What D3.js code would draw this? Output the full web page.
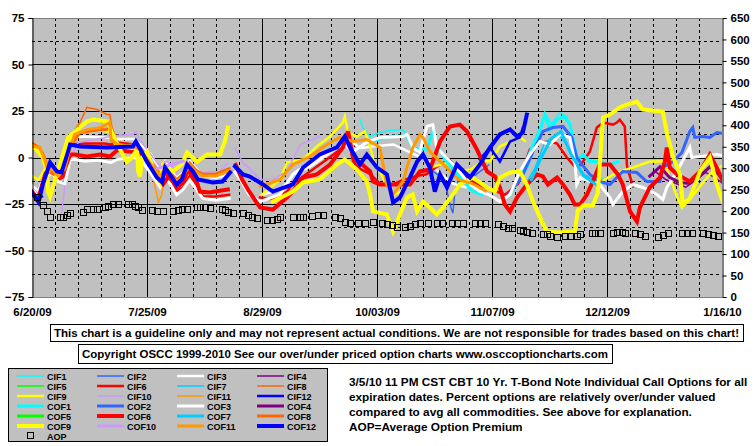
<!DOCTYPE html>
<html><head><meta charset="utf-8">
<script src="https://cdn.jsdelivr.net/npm/d3@7"></script>
<style>
body{margin:0;background:#fff;}
svg{display:block;font-family:"Liberation Sans",Arial,sans-serif;font-weight:bold;}
</style></head><body>
<svg id="c" width="755" height="446"></svg>
<script>
// ---------- DATA (day offset from 6/20/09, percent over/under) ----------
const xTickLabels = ["6/20/09","7/25/09","8/29/09","10/03/09","11/07/09","12/12/09","1/16/10"];
const leftTicks = [75,50,25,0,-25,-50,-75];
const rightTicks = [650,600,550,500,450,400,350,300,250,200,150,100,50,0];

const cif1 = [[99.8,20.4],[100.7,16],[102.9,11.3],[105.9,13.4],[108.9,14.5],[112.9,15.1],[114.1,12.4],[null,null],
  [148,-14],[151,-5],[153.7,10],[155.5,18],[156.1,24],[158,18],[160.7,24],[162.8,22],[164.3,12],[166,0]];
const cif2 = [[121,-6],[124,-10],[126,-16],[127.5,-27],[128.1,-30],[128.6,-20],[130,-10],[133,-12],[136,-8],[139,-4]];
const cif3 = [[0,-15],[2,-18],[4,-8],[6,-4],[8,-9],[10,-8],[11.6,10.8],[16,11.3],[22,10.8],[24,10.5],[26,10],[31,10],[33,7],[36,2],[39,-6],[40.5,-2],[42,-6],[44,-11],[46,-8],[48,-2],[50,-6],[52,-10],[56,-11],[60,-9],[null,null],
  [70,-20],[76,-17],[80,-8],[86,-1],[92,4],[96,10],[100,5],[104,6],[110,7],[116,2],[120,-1],[124,-8],[128,-14],[132,-16],[136,-14]];
const cif4 = [[190,-8],[193,-12],[196,-14],[199,-16],[202,-12],[205,-8],[208,-11],[210.3,-14]];
const cif5 = [];
const cif6 = [[0,-20],[2,-21],[4,-12],[6,-6],[8,-12],[10,-10],[11.6,7],[16,7.5],[22,7.5],[24,7],[26,8],[31,7],[33,3],[36,-5],[39,-14],[40.5,-8],[42,-12],[44,-18],[46,-16],[48,-10],[50,-15],[52,-21],[56,-21],[60,-20],[null,null],
  [69.4,-21.5],[73.3,-22.6],[77.6,-18.3],[79.4,-14],[84.6,-7.5],[89.8,-1],[94.6,5.4],[96.2,13.4],[97.7,-2],[99.8,-6],[103,-9],[105.9,-14],[109,-15],[113,-12],[117,-10],[120,-9],[124,-4],[127,-1],[131,-9],[134,-13],[138,-16],[141,-18],[144,-20],[148,-14],[151.5,4.3],[154.6,8.1],[157.6,8.6],[159.8,7.5],[162.8,0],[165.2,-5],[167,-4],[169.8,3.2],[171.9,16.1],[173.8,18.8],[176.8,17.7],[178,18.8],[178.9,20.4],[180.4,16.7],[181.1,-4.8],[182.9,-15.6]];
const cif7 = [[150,-15],[153,-6],[156,8],[160,13],[164,4],[167,-8],[172,-13],[176,-10]];
const cif8 = [[0,8],[2,6],[4,-4],[6,-8],[8,-10],[10,-5],[11,5],[12,12],[14.6,18.8],[16.7,26.9],[19.8,25.8],[22.8,23.1],[23.7,23.1],[24.3,16.7],[26,8]];
const cif9 = [[0,-10],[2,-12],[4,-6],[6,-9],[9,-4],[11,8],[13,13.4],[16,14],[20,14.5],[23.7,14],[24.3,10],[26,5],[30,4],[33,2],[null,null],
  [70,-20],[75.5,-11.8],[77.6,-2.7],[82.5,-1.1],[86.7,5.9],[90.7,11.3],[94.6,18.8],[95.2,22],[96.2,13.4],[98.9,11.3],[101.3,14],[102.9,5.9],[104,-2],[106,-8],[108,-15],[110,-20],[113,-18],[116,-12],[118,-8],[122,-5],[126,-3],[130,-8],[134,-6],[137,-2],[139.4,-2],[142.4,5.9],[145.5,8.6],[148.5,10.8],[150,9],[null,null],
  [165.8,-29],[170,-15],[172.8,-13.4],[178,-8.1],[182.9,-5.4],[188,-2.2],[192,-2.2],[193.2,-6.5],[196.3,-21],[197.8,-26.9],[200.2,-22.6],[203.3,-15.6],[206.3,-9],[210.3,-4]];
const cif10 = [[9.1,-29],[10,-15],[11.6,-1],[14,8],[20,10],[26,12],[30.7,12.4],[31.6,14],[33,9],[36,2],[39,-5],[40.5,-2],[42,-3],[44,-8],[47.2,-2.7],[51.1,-8.1],[57.2,-7.5],[59.6,-2.7],[null,null],
  [61.8,5],[64.2,-3],[66.3,-6],[69.4,-11.8],[73.3,-11.8],[77.6,-7.5],[81.6,7],[86.7,10.8],[87.6,11.3]];
const cif11 = [[36,-4],[37.5,-16],[38.5,-24],[39.5,-20],[40.5,-8]];
const cif12 = [[0,-20],[1.5,-22],[3,-21],[null,null],[136.3,-1],[139.4,5.4],[142.4,-2.2],[145.5,8.6],[148.5,10.8],[149.4,16.1]];

const cof1 = [[103,8],[106,10],[110,11.5],[114.1,11.3],[116,5],[120.2,4.3],[122,14],[123.5,6],[126,-2],[130,-10],[134,-18],[137,-20],[null,null],
  [145.5,-20],[148.5,-10.8],[151.5,2.7],[154.6,15.1],[156.1,23.1],[157.6,15.1],[159.8,20.4],[161.6,22.1],[163.7,18.3],[165.2,5.4],[166.1,-1],[167.7,1.6],[169.8,-2.2],[172.8,-2.2],[175.9,-3.8],[178.3,-2.2]];
const cof2 = [[145.5,-18.8],[149.4,-9.1],[152.5,3.2],[155.5,14],[158.5,16.1],[161.6,16.7],[164.3,10.8],[165.8,0],[167.4,-3.8],[169.8,-9.1],[172.8,-12.9],[175.9,-14.5],[179.8,-7.5],[184.1,-8.1],[187.1,-12.9],[191.1,-12.9],[192,-5.4],[195.1,-2.2],[197.8,2.7],[200.2,14],[201.1,16.1],[201.7,10.8],[204.2,11.3],[206.3,10.8],[208.4,13.4],[210.3,13]];
const cof3 = [[0,-17],[2,-22],[4,-12],[6,-8],[8,-13],[10,-14],[11.6,-1.1],[13,-1],[16,-2],[20,-1.5],[24,-2.7],[26,-1],[31,0],[33,-1],[36,-8],[39,-16],[40.5,-11],[42,-14],[44,-20],[46,-17],[48,-12],[50,-17],[52,-22],[56,-23],[60,-22],[null,null],
  [61.8,-8],[64.2,-14],[66,-20],[69.4,-23.7],[75.5,-19.9],[79.4,-9.1],[84.6,-4.8],[89.8,1.6],[94.6,8.1],[97.7,3.2],[101.9,8.1],[105.9,10.8],[112.9,11.3],[114.1,12.4],[116,5],[118,3],[120.2,16.7],[122,17.7],[123.2,5.4],[126,0],[129,-5],[132,-12],[136,-18],[139,-20],[141,-22],[142.4,-23.7],[145.5,-19.9],[148.5,-7.5],[151.5,1.6],[154.6,8.6],[157.6,7],[160.7,12.4],[163.7,10.8],[165.2,-2.2],[165.8,-14.5],[166.8,-10.8],[169.8,-12.9],[172.8,-14.5],[175.9,-21.5],[176.8,-25.3],[179.8,-18.3],[182.9,-14.5],[185.9,-16.1],[190.2,-19.9],[192,-22.6],[193.2,-16.1],[196.3,-7.5],[200.2,5.4],[200.8,0],[203.3,0.5],[208.4,1.6],[210.3,1]];
const cof4 = [[188,-10],[191.1,-5],[194.1,-10.8],[197.2,-13.4],[200.2,-14],[203.3,-10],[206.3,-5],[208.4,-8],[210.3,-12]];
const cof5 = [];
const cof6 = [[0,-18.3],[1.8,-22.6],[4,-9.1],[5.5,-4.8],[7.6,-10.2],[9.4,-9.1],[11.6,1.6],[13,1.6],[16.7,0.5],[20.7,1.6],[23.7,0.5],[26,4],[30.7,3],[33,2.7],[36,-3.8],[39,-12.9],[39.9,-14.5],[42,-9.1],[44.1,-16.1],[46,-13.4],[47.5,-6.5],[50.2,-13.4],[51.1,-18.3],[54,-18.8],[59.6,-17.2],[null,null],
  [62,-4],[64,-12],[66,-18],[69.4,-26.9],[73.3,-28],[77.6,-21.5],[79.4,-18.3],[82.5,-10.8],[86.7,-9.1],[90.7,-3.8],[94.6,5.4],[96.2,14],[97.7,0],[99.8,-2.7],[102.9,-7.5],[103.8,-12.9],[105.9,-14.5],[112,-14.5],[115,-14.5],[118.1,-7.5],[121.1,-6.5],[124.2,8.6],[127.2,16.7],[130.2,17.7],[132.4,14],[135.4,4.3],[138.5,-7.5],[140.9,-10.2],[142.4,-16.1],[143.9,-25.3],[145.5,-29],[147.6,-21.5],[150.6,-14.5],[153.7,-9.1],[155.5,-10.2],[157,-14.5],[159.8,-10.8],[161.6,-14.5],[163.7,-19.9],[165.2,-25.3],[166.8,-25.3],[168.9,-19.9],[170.7,-12.9],[172.8,-3.8],[175.9,-3.8],[178.3,-9.1],[179.8,-14.5],[182,-29],[184.1,-34.4],[185,-26.9],[188,-16.1],[191.1,-10.8],[192.6,-2.2],[193.2,5.4],[194.1,-5.4],[196.3,-9.1],[200.2,-12.9],[203.3,-7.5],[206.3,1.6],[208.4,-5.4],[210.3,-12.9]];
const cof7 = [[152,-12],[155,0],[158,10],[161,14],[164,2],[168,-10],[172,-15]];
const cof8 = [[0,7.5],[1.5,6],[3.3,2],[4.6,-4],[5.5,-8],[7.6,-10],[9.4,-6],[11.6,6],[14.6,13.4],[18.6,14.5],[22.8,15.1],[23.7,17],[24.3,9],[28,6],[31,7],[33,5],[36,-2],[39,-9],[40.5,-4],[42,-8],[44,-12],[46,-9],[48,-3],[50,-7],[52,-9],[56,-9],[60,-6]];
const cof9 = [[0,6],[1,5],[3.3,0],[4.6,-7.5],[4.9,-18.3],[5.5,-21],[9.4,1.6],[11,10.8],[14.6,16.1],[16.7,19.4],[18.6,20.4],[22.8,19.4],[23.7,16.1],[24.3,13.4],[26.8,4.3],[28.9,-2.2],[29.8,-1.1],[32,4.3],[32.3,-7.5],[32.9,-10.2],[33.5,0],[35,3.2],[36.8,-5.4],[39,-12.9],[39.9,-3.8],[42.9,-7.5],[45.6,-3.8],[47.2,2.7],[50.2,-2.2],[53.3,1.6],[57.2,1.6],[58.7,8.6],[59.6,16.1],[null,null],
  [73.3,-23.7],[79.4,-18.3],[82.5,-13.4],[87.6,-11.8],[92.8,-3.8],[95.2,-1.1],[98.9,-6.5],[101.9,-12.9],[102.9,-19.9],[103.8,-29],[108,-30.6],[109.9,-39.8],[112,-30.6],[114.1,-21.5],[115.9,-19.9],[117.2,-29],[119,-23.7],[121.1,-26.9],[123.2,-30.6],[125.1,-26.9],[128.1,-19.9],[130.2,-14.5],[134.2,-10.8],[138.5,-16.1],[140.9,-18.3],[142.4,-10.8],[145.5,-8.1],[148.5,-7.5],[150.6,-14.5],[152.5,-23.7],[154.6,-32.3],[156.7,-39.8],[159.8,-40.3],[165.2,-39.8],[166.1,-29],[167.7,-25.8],[170.7,-25.8],[172.2,-19],[172.8,-4],[173.8,21.5],[175.9,23.1],[178.9,26.9],[180.4,28],[184.1,30.1],[185.9,25.8],[192,24.7],[193.2,13.4],[195.1,0.5],[197.2,-9.1],[198.1,-25.3],[200.2,-22],[203.3,-7.5],[206.3,0],[208.4,-14.5],[210.3,-24.2]];
const cof10 = [[38,-6],[42,-4],[46,-2]];
const cof11 = [[0,6],[2.4,5.4],[4,-2.2],[5,-8],[6,-6],[8,-10],[10,-6],[11.6,5],[13,12.4],[16.7,15],[20.7,16],[23.7,18.8],[24,10],[26,7],[31,6],[33,4],[36,-3],[39,-10],[40.5,-6],[42,-9],[44,-13],[46,-10],[48,-4],[50,-8],[52,-10],[56,-10],[60.3,-7],[null,null],
  [69.4,-15.6],[75.5,-11.8],[79.4,-3.8],[84.6,0.5],[89.8,7],[93.7,10.8],[97.7,8.6],[101.9,9.7],[105.9,5.4],[108,-15],[109.9,-19.9],[112.9,-12.9],[115.9,5.4],[118.1,12.4],[119,10.8],[121.1,3.2],[123.2,-0.5],[126,-5],[130,-12],[134,-14],[138,-18]];
const cof12 = [[0,-19],[2,-24],[3.3,-14.5],[5.5,-2.7],[7.6,-7.5],[9,-8],[10.7,1.6],[11.6,7],[14.6,5.9],[22.8,5.4],[30.7,5.9],[31.6,8.6],[33,4.3],[35,-2.2],[38,-10.8],[39.6,-13.4],[40.5,-5.4],[42,-9.1],[44,-14.5],[45.6,-11.8],[47.2,-3.8],[49,-7.5],[50.5,-11.8],[55,-13.4],[58,-12.9],[60.3,-8.1],[null,null],
  [61.8,-4.8],[64.2,-9.1],[66.3,-10.2],[70.3,-14.5],[73.3,-18.3],[79.4,-14.5],[82.5,-5.4],[87.6,1.6],[92.8,5.4],[95.2,11.3],[96.8,5.4],[99.8,-3.8],[101.9,1.6],[105,-5.4],[108,-9.1],[109.9,-24.2],[112,-21.5],[115,-10.8],[117.2,-2.2],[119,1.6],[121.1,-5.4],[122.6,-18.3],[124.2,-9.1],[126.3,-16.1],[129.3,-3.8],[133.3,-10.8],[136.3,-3.8],[139.4,5.4],[142.4,12.4],[145.5,15.1],[147.6,11.3],[149.4,13.4],[150.6,23.1]];

// AOP (right axis, average option premium)
const aopDays = [1.5,3.3,4.6,5.5,8.5,9.4,10.7,11.6,15.5,16.7,18.6,19.8,22.2,23.1,24.7,26.2,29.2,30.4,31.3,32.3,33.5,36.5,38,39.9,42.9,44.4,45.6,47.2,50.2,51.1,52.6,54.2,57.8,58.7,59.6,61.2,64.2,65.7,67,68.5,71.5,73,74.6,75.5,79.4,81.6,82.5,85.2,87,88.6,92.2,93.7,95.3,96.8,99.2,101.3,103.8,106.5,108,109.6,111,113.5,115,116.6,118,120.5,123.2,124.8,127.8,129.3,131.2,134.8,136.3,137.9,141.8,143.3,144.9,146,148.5,149.4,150.6,152.2,155.5,156.7,157.6,159.8,162.2,163.7,165.9,166.8,170.4,171.3,172.8,176.7,177.9,179.5,180.5,183.5,185,186.5,190.5,192,193.6,197.8,199.3,200.9,204.2,205.7,207.2,208.7];
const aopValues = [233,214,200,186,186,186,191,196,198,205,205,205,210,212,217,217,217,217,212,210,203,203,200,200,200,203,205,205,210,210,210,207,205,203,198,196,196,191,186,184,179,179,182,186,186,186,186,189,191,191,186,184,175,172,172,172,175,172,170,168,163,163,165,170,172,172,172,172,172,172,172,172,172,172,170,165,161,161,156,154,151,149,147,147,142,140,142,142,142,147,149,149,149,149,151,151,149,149,147,142,140,144,149,149,149,149,149,147,144,142,142];

const series = [
  ["CIF1","#00ffff",1.5,cif1],["CIF2","#3366ff",1.5,cif2],["CIF3","#ffffff",2.5,cif3],["CIF4","#800080",1.5,cif4],
  ["CIF5","#00ff00",1.5,cif5],["CIF6","#ff0000",2.5,cif6],["CIF7","#00ccff",1.5,cif7],["CIF8","#ff6600",1.5,cif8],
  ["CIF9","#ffff00",2.5,cif9],["CIF10","#cc99ff",1.5,cif10],["CIF11","#ff9900",1.5,cif11],["CIF12","#0000ff",2.5,cif12],
  ["COF1","#00ffff",3,cof1],["COF2","#3366ff",3,cof2],["COF3","#ffffff",3,cof3],["COF4","#800080",3,cof4],
  ["COF5","#00ff00",3,cof5],["COF6","#ff0000",4,cof6],["COF7","#00ccff",3,cof7],["COF8","#ff6600",3,cof8],
  ["COF9","#ffff00",4,cof9],["COF10","#cc99ff",3,cof10],["COF11","#ff9900",3,cof11],["COF12","#0000ff",4,cof12]
];

// ---------- DRAW ----------
const svg = d3.select("#c");
const L = 32, R = 722, T = 18, B = 297;
const t0 = Date.UTC(2009,5,20);
const toDate = d => new Date(t0 + d*864e5);
const x = d3.scaleUtc().domain([toDate(0), toDate(210)]).range([L,R]);
const y = d3.scaleLinear().domain([-75,75]).range([B,T]);
const y2 = d3.scaleLinear().domain([0,650]).range([B,T]);

svg.append("rect").attr("x",L).attr("y",T).attr("width",R-L).attr("height",B-T).attr("fill","#c0c0c0");

// grid
const g = svg.append("g");
for (let v=-62.5; v<75; v+=12.5) {
  const major = Math.abs(v % 25) < 1e-9;
  g.append("line").attr("x1",L).attr("x2",R).attr("y1",Math.round(y(v))+0.5).attr("y2",Math.round(y(v))+0.5)
    .attr("stroke","#000").attr("stroke-width",1).attr("stroke-dasharray",major?null:"3,3");
}
for (let d=7; d<210; d+=7) {
  const major = d % 35 === 0;
  const px = Math.round(x(toDate(d)))+0.5;
  g.append("line").attr("x1",px).attr("x2",px).attr("y1",T).attr("y2",B)
    .attr("stroke","#000").attr("stroke-width",1).attr("stroke-dasharray",major?null:"3,3");
}
svg.append("line").attr("x1",L).attr("x2",R).attr("y1",T+0.5).attr("y2",T+0.5).attr("stroke","#808080");
svg.append("line").attr("x1",L).attr("x2",R).attr("y1",B+0.5).attr("y2",B+0.5).attr("stroke","#808080");

// series
svg.append("clipPath").attr("id","clip").append("rect").attr("x",L).attr("y",T).attr("width",R-L).attr("height",B-T);
const line = d3.line().defined(p => p[0]!==null).x(p => x(toDate(p[0]))).y(p => y(p[1]));
const lg = svg.append("g").attr("clip-path","url(#clip)");
const order = series.slice(0,12).concat(series.slice(12).filter(s=>s[0]!=="COF12"), series.filter(s=>s[0]==="COF12"));
order.forEach(s => {
  if (!s[3].length) return;
  lg.append("path").attr("d",line(s[3])).attr("fill","none").attr("stroke",s[1]).attr("stroke-width",s[2])
    .attr("stroke-linejoin","miter").attr("stroke-linecap","square");
});
// AOP squares
lg.selectAll("rect.aop").data(aopDays.map((d,i)=>[d,aopValues[i]])).join("rect")
  .attr("x",p => Math.round(x(toDate(p[0])))-3+0.5).attr("y",p => Math.round(y2(p[1]))-3+0.5)
  .attr("width",6).attr("height",6).attr("fill","none").attr("stroke","#000").attr("stroke-width",1);

// axes
const styleText = a => a.selectAll("text").attr("font-size","11.5px").attr("font-weight","bold").attr("fill","#000").attr("font-family","Liberation Sans, Arial");
const axL = d3.axisLeft(y).tickValues(leftTicks).tickSize(4).tickPadding(4).tickFormat(d3.format("d"));
svg.append("g").attr("transform",`translate(${L+0.5},0)`).call(axL).call(a=>{
  a.select(".domain").attr("stroke","#000"); styleText(a);
});
const axR = d3.axisRight(y2).tickValues(rightTicks).tickSize(4).tickPadding(4);
svg.append("g").attr("transform",`translate(${R+0.5},0)`).call(axR).call(a=>{
  a.select(".domain").attr("stroke","#000"); styleText(a);
});
const axB = d3.axisBottom(x).tickValues(xTickLabels.map((_,i)=>toDate(i*35))).tickSize(0).tickPadding(11)
  .tickFormat((d,i)=>xTickLabels[i]);
svg.append("g").attr("transform",`translate(0,${B})`).call(axB).call(a=>{
  a.select(".domain").remove(); styleText(a);
});

// disclaimer boxes
function box(x0,y0,w,h,txt,base){
  svg.append("rect").attr("x",x0+0.5).attr("y",y0+0.5).attr("width",w).attr("height",h).attr("fill","#fff").attr("stroke","#000");
  svg.append("text").attr("x",x0+w/2).attr("y",base).attr("text-anchor","middle").attr("font-size","11.5px")
    .attr("textLength",w-8).attr("lengthAdjust","spacingAndGlyphs").text(txt);
}
box(50,324,693,17,"This chart is a guideline only and may not represent actual conditions. We are not responsible for trades based on this chart!",337);
box(78,344,534,19,"Copyright OSCC 1999-2010 See our over/under priced option charts www.osccoptioncharts.com",358);

// legend
svg.append("rect").attr("x",8.5).attr("y",368.5).attr("width",319).attr("height",73).attr("fill","#c0c0c0").attr("stroke","#000");
series.forEach((s,i)=>{
  const col = i%4, row = Math.floor(i/4);
  const x0 = 17 + col*80, yc = 376 + row*10;
  svg.append("line").attr("x1",x0).attr("x2",x0+27).attr("y1",yc).attr("y2",yc).attr("stroke",s[1]).attr("stroke-width",s[2]);
  svg.append("text").attr("x",x0+30).attr("y",yc+3.5).attr("font-size","9px").text(s[0]);
});
svg.append("rect").attr("x",27.5).attr("y",432.5).attr("width",6).attr("height",6).attr("fill","none").attr("stroke","#000");
svg.append("text").attr("x",47).attr("y",439.5).attr("font-size","9px").text("AOP");

// description
const desc = ["3/5/10 11 PM CST CBT 10 Yr. T-Bond Note Individual Call Options for all",
  "expiration dates. Percent options are relatively over/under valued",
  "compared to avg all commodities. See above for explanation.",
  "AOP=Average Option Premium"];
desc.forEach((t,i)=>{
  svg.append("text").attr("x",349).attr("y",386+i*15).attr("font-size","11.8px").text(t);
});
</script></body></html>
